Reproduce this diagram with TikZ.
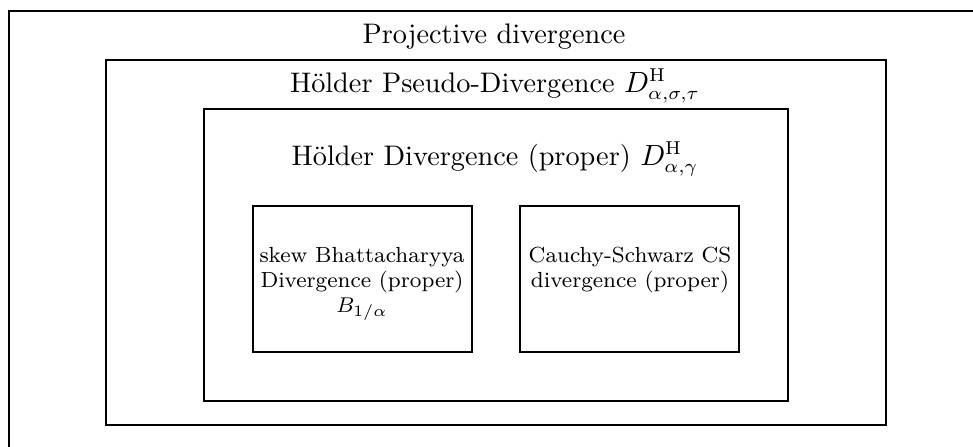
\documentclass[tikz,border=0pt]{standalone}
\usetikzlibrary{positioning}
\tikzset{
  px/.style={x=0.375pt,y=-0.375pt},
  frame/.style={draw=black,line width=0.7pt},
  lbl/.style={anchor=base,inner sep=0pt,font=\fontsize{10.6}{12.7}\selectfont},
  slbl/.style={anchor=base,inner sep=0pt,font=\fontsize{8.2}{10}\selectfont}
}
\begin{document}
\begin{tikzpicture}[px]
\useasboundingbox (0,0) rectangle (973,446);
\begin{scope}
\clip (0,0) rectangle (973,446);
\draw[frame] (9,11) rectangle (1000,480);
\end{scope}
\draw[frame] (106,60) rectangle (886,425);
\draw[frame] (204,109) rectangle (788,401);
\draw[frame] (253,206) rectangle (472,352);
\draw[frame] (520,206) rectangle (739,352);
\node[lbl] (proj) at (494,43) {Projective divergence};
\node[lbl] (pseudo) at (495,92) {H\"older Pseudo-Divergence $D^{\mathrm{H}}_{\alpha,\sigma,\tau}$};
\node[lbl] (hold) at (495,165) {H\"older Divergence (proper) $D^{\mathrm{H}}_{\alpha,\gamma}$};
\node[slbl] (b1) at (362,262) {skew Bhattacharyya};
\node[slbl] (b2) at (362,287) {Divergence (proper)};
\node[slbl] (b3) at (362,312) {$B_{1/\alpha}$};
\node[slbl] (c1) at (630,262) {Cauchy-Schwarz CS};
\node[slbl] (c2) at (630,287) {divergence (proper)};
\end{tikzpicture}
\end{document}
